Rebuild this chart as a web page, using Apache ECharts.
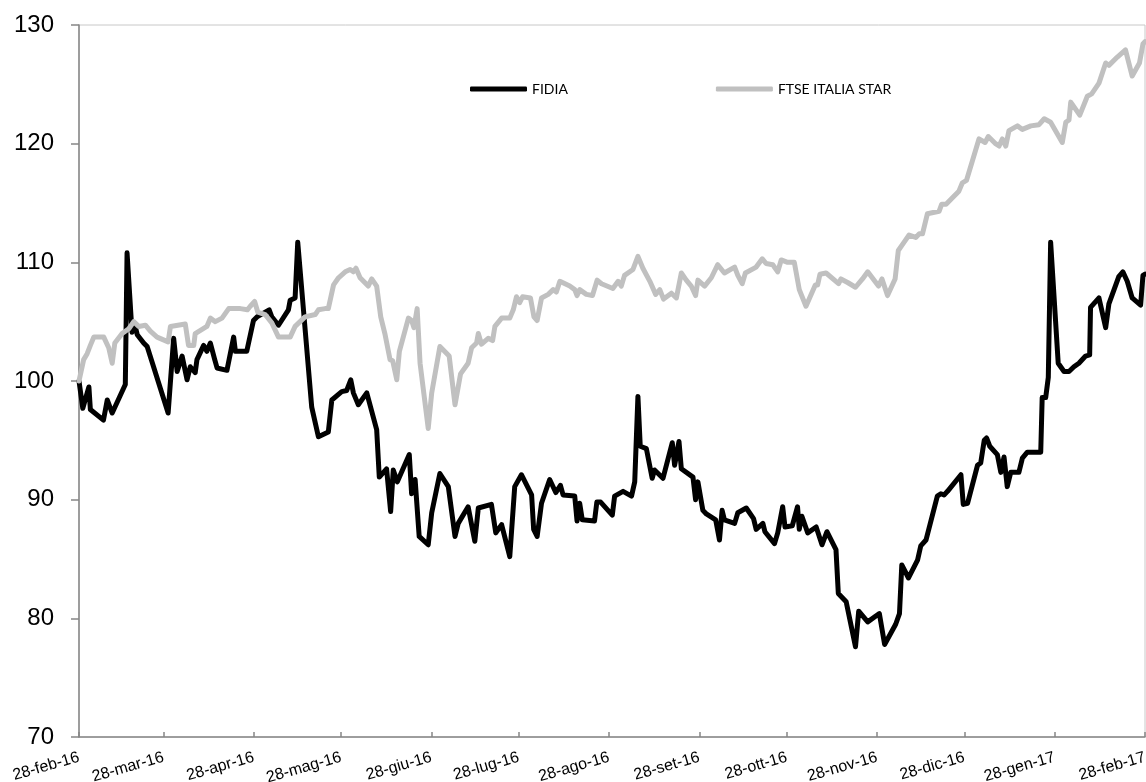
<!DOCTYPE html>
<html>
<head>
<meta charset="utf-8">
<script src="https://cdn.jsdelivr.net/npm/echarts@6/dist/echarts.min.js"></script>
<style>
  html, body { margin: 0; padding: 0; background: #fff; }
  #chart { width: 1146px; height: 782px; }
</style>
</head>
<body>
<div id="chart"></div>
<script>
// x values are days counted from 28-feb-2016
const START_DATE = "2016-02-28";
const END_DATE = "2017-02-28";

const tickDates = [
  "2016-02-28", "2016-03-28", "2016-04-28", "2016-05-28", "2016-06-28", "2016-07-28",
  "2016-08-28", "2016-09-28", "2016-10-28", "2016-11-28", "2016-12-28", "2017-01-28", "2017-02-28",
];
const tickLabels = [
  "28-feb-16", "28-mar-16", "28-apr-16", "28-mag-16", "28-giu-16", "28-lug-16",
  "28-ago-16", "28-set-16", "28-ott-16", "28-nov-16", "28-dic-16", "28-gen-17", "28-feb-17",
];

const fidiaDays = [
  0, 1.3, 3.4, 3.9, 8.4, 9.7, 11.4, 15.9, 16.5, 18.2, 19.1, 20.0, 22.2, 23.4, 25.6, 30.6,
  32.5, 33.7, 35.4, 37.1, 38.2, 39.9, 40.5, 42.8, 43.9, 45.1, 46.6, 47.4, 50.8, 53.1, 53.7,
  57.6, 59.9, 61.1, 65.3, 66.2, 68.5, 71.9, 72.5, 74.2, 75.1, 79.9, 82.2, 85.6, 86.8, 90.2,
  91.9, 93.3, 94.2, 95.9, 98.8, 102.2, 103.1, 105.6, 107.0, 107.9, 109.3, 113.4, 114.2,
  115.4, 116.8, 119.9, 121.1, 123.9, 126.8, 129.1, 130.2, 133.6, 135.9, 137.1, 141.6,
  143.1, 145.1, 147.9, 149.6, 151.9, 155.4, 156.1, 157.3, 158.8, 161.6, 163.7, 165.3,
  166.2, 170.2, 171.0, 171.9, 172.8, 177.0, 177.8, 179.1, 183.1, 183.9, 186.8, 189.7,
  190.8, 191.9, 192.7, 194.8, 196.8, 197.6, 200.5, 203.7, 204.5, 206.0, 206.8, 210.8,
  211.7, 212.5, 214.2, 215.4, 218.6, 219.9, 220.8, 221.6, 225.1, 226.2, 229.1, 231.6,
  232.5, 234.8, 235.5, 238.8, 239.9, 241.6, 242.4, 244.9, 246.7, 247.3, 248.2, 250.2,
  253.1, 255.1, 256.8, 259.9, 260.7, 263.4, 266.6, 267.7, 270.8, 274.8, 276.6, 280.4,
  281.7, 282.5, 284.8, 287.9, 289.0, 290.8, 294.7, 295.9, 297.0, 298.2, 302.8, 303.6,
  305.1, 308.5, 309.6, 310.8, 311.6, 312.7, 315.3, 316.5, 317.6, 318.7, 319.9, 322.7,
  323.9, 325.6, 330.2, 330.7, 331.9, 332.8, 333.6, 336.2, 338.2, 339.9, 341.6, 343.3,
  345.6, 347.0, 347.3, 350.2, 352.5, 353.6, 357.0, 358.4, 359.9, 361.6, 364.5, 365.3, 366,
];
const fidiaValues = [
  100.0, 97.7, 99.5, 97.6, 96.7, 98.4, 97.3, 99.7, 110.8, 104.1, 104.8, 103.9, 103.2, 102.9, 101.2, 97.3,
  103.6, 100.8, 102.1, 100.1, 101.2, 100.7, 101.8, 103.0, 102.5, 103.2, 101.8, 101.1, 100.9, 103.7, 102.5,
  102.5, 105.1, 105.4, 106.0, 105.4, 104.7, 106.0, 106.8, 107.0, 111.7, 97.8, 95.3, 95.7, 98.4, 99.1,
  99.2, 100.1, 99.0, 98.0, 99.0, 95.9, 91.9, 92.6, 89.0, 92.5, 91.5, 93.8, 90.5,
  91.7, 86.9, 86.2, 88.9, 92.2, 91.1, 86.9, 88.0, 89.4, 86.5, 89.3, 89.6,
  87.2, 87.9, 85.2, 91.1, 92.1, 90.4, 87.5, 86.9, 89.7, 91.7, 90.6, 91.2,
  90.4, 90.3, 88.2, 89.7, 88.3, 88.2, 89.8, 89.8, 88.7, 90.3, 90.7, 90.3,
  91.5, 98.7, 94.5, 94.3, 91.8, 92.5, 91.8, 94.8, 92.9, 94.9, 92.6, 91.9,
  90.0, 91.5, 89.1, 88.8, 88.3, 86.6, 89.1, 88.3, 88.0, 88.9, 89.3, 88.4,
  87.5, 88.0, 87.3, 86.3, 87.2, 89.4, 87.7, 87.8, 89.4, 87.5, 88.6, 87.2,
  87.7, 86.2, 87.3, 85.8, 82.1, 81.4, 77.6, 80.6, 79.7, 80.4, 77.8, 79.5,
  80.4, 84.5, 83.4, 84.9, 86.1, 86.6, 90.3, 90.5, 90.4, 90.7, 92.1, 89.6,
  89.7, 92.9, 93.1, 95.0, 95.2, 94.5, 93.8, 92.3, 93.6, 91.1, 92.3, 92.3,
  93.5, 94.0, 94.0, 98.6, 98.6, 100.3, 111.7, 101.5, 100.8, 100.8, 101.2, 101.5,
  102.1, 102.2, 106.2, 107.0, 104.5, 106.5, 108.8, 109.2, 108.4, 107.0, 106.4, 108.9, 109.0,
];

const starDays = [
  0, 1.6, 2.8, 3.9, 5.1, 8.5, 10.2, 11.4, 12.3, 14.8, 17.1, 18.8, 20.5, 22.8, 24.5, 26.8,
  30.6, 31.4, 36.5, 37.6, 39.4, 39.9, 43.9, 45.1, 46.8, 49.1, 51.4, 55.4, 57.8, 58.8, 60.3,
  61.4, 63.9, 66.2, 68.5, 72.5, 74.2, 77.6, 81.1, 82.2, 84.5, 85.6, 87.4, 89.1, 91.4, 93.1,
  94.2, 95.1, 96.5, 99.3, 100.5, 102.2, 103.6, 105.1, 106.8, 107.7, 109.1, 110.0, 113.1,
  114.2, 115.0, 116.1, 117.1, 119.9, 121.1, 123.9, 127.1, 129.1, 131.0, 133.6, 134.8,
  136.5, 137.1, 138.2, 140.5, 142.0, 142.8, 145.1, 147.9, 149.1, 150.2, 151.3, 152.3,
  155.0, 156.2, 157.3, 158.8, 161.1, 162.8, 163.9, 165.1, 168.5, 170.2, 171.0, 171.9,
  174.2, 176.3, 177.9, 179.4, 183.3, 185.1, 186.2, 187.3, 190.2, 191.9, 193.6, 196.0,
  198.0, 199.4, 200.7, 203.4, 205.1, 206.8, 208.5, 210.2, 211.7, 212.5, 214.8, 217.1,
  219.3, 221.6, 225.1, 226.2, 227.7, 228.8, 232.5, 234.6, 235.9, 238.2, 239.9, 241.1,
  243.3, 245.6, 247.3, 249.6, 252.8, 253.6, 254.4, 256.5, 260.8, 261.6, 263.9, 266.6,
  269.0, 270.8, 274.5, 275.7, 277.6, 280.2, 281.3, 283.3, 285.0, 287.3, 288.5, 289.6,
  291.3, 295.3, 296.2, 297.7, 299.3, 302.1, 303.3, 304.7, 306.8, 309.0, 311.1, 312.2,
  314.7, 315.9, 317.0, 318.2, 319.3, 322.2, 323.9, 326.8, 329.6, 331.4, 333.6, 337.6,
  338.8, 339.9, 340.5, 343.6, 346.2, 347.7, 350.2, 352.5, 353.6, 356.5, 359.3, 361.6,
  364.1, 365.3, 366,
];
const starValues = [
  100.0, 101.8, 102.3, 103.0, 103.7, 103.7, 102.8, 101.5, 103.2, 104.0, 104.4, 105.0, 104.6, 104.7, 104.2, 103.7,
  103.3, 104.6, 104.8, 103.0, 103.0, 104.0, 104.6, 105.3, 105.0, 105.3, 106.1, 106.1, 106.0, 106.3, 106.7,
  105.8, 105.6, 104.9, 103.7, 103.7, 104.6, 105.4, 105.6, 106.0, 106.1, 106.1, 108.1, 108.7, 109.2, 109.4,
  109.2, 109.5, 108.7, 108.0, 108.6, 108.0, 105.4, 103.9, 101.8, 101.7, 100.1, 102.5, 105.3,
  105.1, 104.5, 106.1, 101.5, 96.0, 99.0, 102.9, 102.1, 98.0, 100.6, 101.5, 102.8,
  103.2, 104.0, 103.1, 103.6, 103.4, 104.6, 105.3, 105.3, 106.0, 107.1, 106.6, 107.1,
  107.0, 105.4, 105.1, 107.0, 107.3, 107.7, 107.5, 108.4, 108.0, 107.7, 107.2, 107.7,
  107.3, 107.2, 108.5, 108.2, 107.8, 108.4, 108.0, 108.9, 109.4, 110.5, 109.5, 108.4,
  107.3, 107.7, 106.9, 107.4, 107.0, 109.1, 108.5, 108.0, 107.2, 108.5, 108.0, 108.7,
  109.8, 109.1, 109.6, 108.9, 108.2, 109.1, 109.6, 110.3, 109.9, 109.8, 109.2, 110.2,
  110.0, 110.0, 107.7, 106.3, 108.1, 108.1, 109.0, 109.1, 108.2, 108.6, 108.3, 107.9,
  108.6, 109.2, 108.0, 108.6, 107.2, 108.6, 111.0, 111.7, 112.3, 112.1, 112.4, 112.4,
  114.1, 114.3, 114.9, 114.9, 115.3, 116.0, 116.7, 116.9, 118.6, 120.4, 120.1, 120.6,
  120.0, 119.8, 120.4, 119.8, 121.1, 121.5, 121.2, 121.5, 121.6, 122.1, 121.8, 120.1,
  121.8, 122.0, 123.5, 122.4, 124.0, 124.2, 125.1, 126.8, 126.6, 127.3, 127.9, 125.7,
  126.8, 128.4, 128.6,
];

const SERIES_META = {
  fidia: { name: "FIDIA", color: "#000000" },
  star: { name: "FTSE ITALIA STAR", color: "#c0c0c0" },
};

const DAY_MS = 86400000;

function dayIndex(s) {
  const [y, m, d] = s.split("-").map(Number);
  const [y0, m0, d0] = START_DATE.split("-").map(Number);
  return Math.round((Date.UTC(y, m - 1, d) - Date.UTC(y0, m0 - 1, d0)) / DAY_MS);
}

const tickDays = tickDates.map(dayIndex);
const lastDay = dayIndex(END_DATE);

function labelFor(v) {
  const i = tickDays.indexOf(Math.round(v));
  return i >= 0 ? tickLabels[i] : "";
}

function buildSeries(key, days, values) {
  return {
    name: SERIES_META[key].name,
    type: "line",
    showSymbol: false,
    symbol: "none",
    lineStyle: { width: 5, color: SERIES_META[key].color, join: "round", cap: "round" },
    itemStyle: { color: SERIES_META[key].color },
    data: days.map((d, i) => [d, values[i]]),
  };
}

const chart = echarts.init(document.getElementById("chart"));

chart.setOption({
  animation: false,
  backgroundColor: "#ffffff",
  grid: {
    left: 79, right: 1, top: 25, bottom: 45,
    containLabel: false,
    outerBoundsMode: "none",
    show: true, borderColor: "#c8c8c8", borderWidth: 1,
  },
  legend: {
    left: 465,
    top: 77,
    itemWidth: 57,
    itemHeight: 5,
    itemGap: 148,
    icon: "roundRect",
    textStyle: { fontFamily: "Lato", fontSize: 14, color: "#000" },
    data: [SERIES_META.fidia.name, SERIES_META.star.name],
  },
  xAxis: {
    type: "value",
    min: 0,
    max: lastDay,
    splitLine: { show: false },
    axisLine: { lineStyle: { color: "#868686", width: 1.5 } },
    axisTick: {
      inside: true,
      length: 5,
      customValues: tickDays,
      lineStyle: { color: "#868686", width: 1.5 },
    },
    axisLabel: {
      customValues: tickDays,
      rotate: 16,
      margin: 20,
      color: "#000",
      fontFamily: "Liberation Sans",
      fontSize: 16,
      formatter: (v) => labelFor(v),
    },
  },
  yAxis: {
    type: "value",
    min: 70,
    max: 130,
    interval: 10,
    splitLine: { show: false },
    axisLine: { show: true, lineStyle: { color: "#868686", width: 1.5 } },
    axisTick: { show: true, length: 8, lineStyle: { color: "#868686", width: 1.5 } },
    axisLabel: {
      margin: 25,
      color: "#000",
      fontFamily: "Liberation Sans",
      fontSize: 24,
    },
  },
  series: [
    buildSeries("fidia", fidiaDays, fidiaValues),
    buildSeries("star", starDays, starValues),
  ],
});

window.addEventListener("resize", () => chart.resize());
</script>
</body>
</html>
